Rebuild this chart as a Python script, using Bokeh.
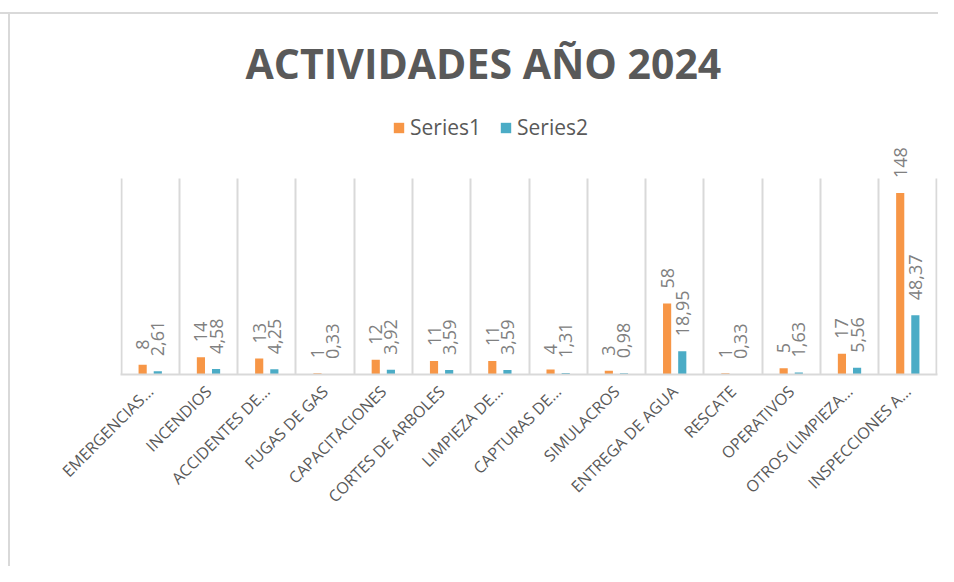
import math
import numpy as np
from bokeh.plotting import figure
from bokeh.models import (ColumnDataSource, Range1d, FixedTicker, LabelSet,
                          Legend, LegendItem)
from bokeh.core.properties import value
from bokeh.embed import file_html
from bokeh.resources import INLINE

categories = ["EMERGENCIAS…", "INCENDIOS", "ACCIDENTES DE…", "FUGAS DE GAS",
              "CAPACITACIONES", "CORTES DE ARBOLES", "LIMPIEZA DE…",
              "CAPTURAS DE…", "SIMULACROS", "ENTREGA DE AGUA", "RESCATE",
              "OPERATIVOS", "OTROS (LIMPIEZA…", "INSPECCIONES A…"]
series1 = [8, 14, 13, 1, 12, 11, 11, 4, 3, 58, 1, 5, 17, 148]
series2 = [2.61, 4.58, 4.25, 0.33, 3.92, 3.59, 3.59, 1.31, 0.98, 18.95,
           0.33, 1.63, 5.56, 48.37]
series_names = ["Series1", "Series2"]
title_text = "ACTIVIDADES AÑO 2024"

ORANGE = "#F79646"
BLUE = "#4BACC6"
GRID = "#d9d9d9"
TEXT = "#595959"
LABEL = "#808080"

n = len(categories)
centers = np.arange(n) + 0.5
dodge = 0.13
bar_w = 0.14

src1 = ColumnDataSource(dict(x=centers - dodge, top=series1,
                             label=[str(v) for v in series1]))
src2 = ColumnDataSource(dict(x=centers + dodge, top=series2,
                             label=[f"{v:.2f}".replace(".", ",") for v in series2]))

p = figure(width=938, height=566, output_backend="svg", toolbar_location=None,
           x_range=Range1d(-0.01, n + 0.01), y_range=Range1d(0, 217),
           y_axis_location=None,
           min_border_left=120, min_border_right=1,
           min_border_top=108, min_border_bottom=192)
p.border_fill_color = None
p.outline_line_color = None
p.styles = {"background": "linear-gradient(#d9d9d9,#d9d9d9) 0 12px / 100% 2px no-repeat, "
                          "linear-gradient(#d9d9d9,#d9d9d9) 8px 12px / 2px 100% no-repeat"}

r1 = p.vbar(x="x", top="top", width=bar_w, source=src1,
            fill_color=ORANGE, line_color=None)
r2 = p.vbar(x="x", top="top", width=bar_w, source=src2,
            fill_color=BLUE, line_color=None)

for src in (src1, src2):
    p.add_layout(LabelSet(x="x", y="top", text="label", source=src,
                          angle=math.pi / 2, text_align="left",
                          text_baseline="middle", y_offset=15,
                          text_font=value("Open Sans"), text_font_size="18px",
                          text_color=LABEL))

# axis
ax = p.xaxis[0]
ax.ticker = FixedTicker(ticks=[float(c) for c in centers])
ax.major_label_overrides = {float(c): cat for c, cat in zip(centers, categories)}
ax.major_label_orientation = math.pi / 4
ax.major_label_text_font = "Open Sans"
ax.major_label_text_font_size = "16px"
ax.major_label_text_color = TEXT
ax.major_label_standoff = 8
ax.major_tick_line_color = None
ax.minor_tick_line_color = None
ax.axis_line_color = GRID
ax.axis_line_width = 2

# grid: vertical lines between categories
p.xgrid.ticker = FixedTicker(ticks=list(range(n + 1)))
p.xgrid.grid_line_color = GRID
p.xgrid.grid_line_width = 2
p.xgrid.cross_bounds = (0, 160)
p.ygrid.visible = False

# title
p.title.text = title_text
p.title.align = "left"
p.title.offset = 125
p.title.standoff = 35
p.title.text_font = "Open Sans"
p.title.text_font_style = "bold"
p.title.text_font_size = "41px"
p.title.text_color = TEXT

legend = Legend(items=[LegendItem(label=series_names[0], renderers=[r1]),
                       LegendItem(label=series_names[1], renderers=[r2])],
                orientation="horizontal", location=(272, 233),
                glyph_width=13, glyph_height=13, label_height=13,
                label_standoff=5, spacing=18, padding=5, margin=0,
                label_text_font="Open Sans", label_text_font_size="21px",
                label_text_color=TEXT, border_line_color=None,
                background_fill_alpha=0)
p.add_layout(legend)

open("out.html", "w").write(file_html(p, INLINE))
